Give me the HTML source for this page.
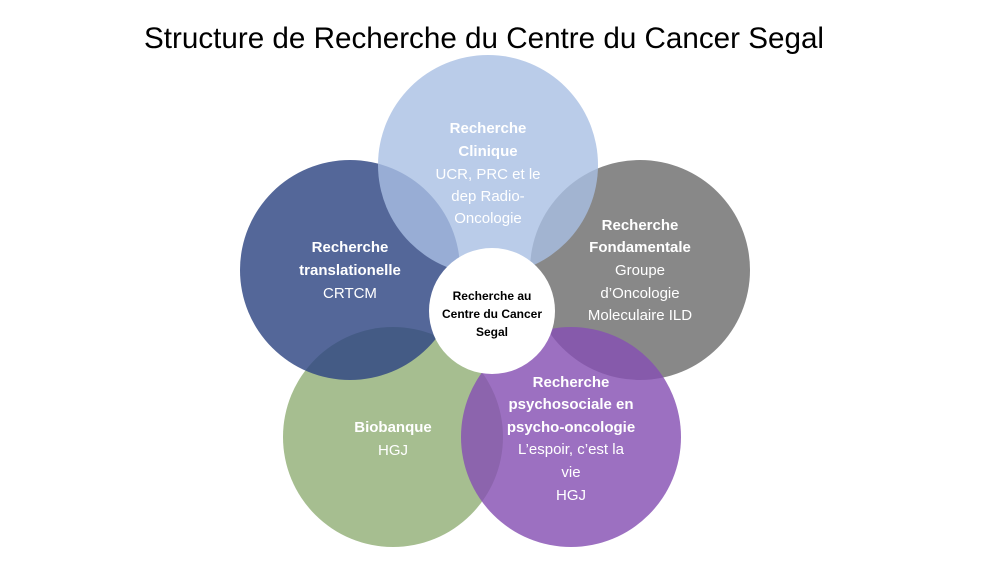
<!DOCTYPE html>
<html><head><meta charset="utf-8"><style>
html,body{margin:0;padding:0;background:#fff;}
svg{display:block;}
text{font-family:"Liberation Sans",sans-serif;fill:#fff;text-anchor:middle;}
</style></head><body>
<svg width="1000" height="563" viewBox="0 0 1000 563" xmlns="http://www.w3.org/2000/svg">
<rect width="1000" height="563" fill="#fff"/>
<text x="484" y="48" style="fill:#000;font-size:30px" textLength="680" lengthAdjust="spacingAndGlyphs">Structure de Recherche du Centre du Cancer Segal</text>
<circle cx="393" cy="437" r="110" fill="#97b37c" fill-opacity="0.85"/>
<circle cx="640" cy="270" r="110" fill="#6e6e6e" fill-opacity="0.82"/>
<circle cx="350" cy="270" r="110" fill="#2e4682" fill-opacity="0.82"/>
<circle cx="571" cy="437" r="110" fill="#8650b3" fill-opacity="0.82"/>
<circle cx="488" cy="165" r="110" fill="#a9bfe4" fill-opacity="0.8"/>
<circle cx="492" cy="311" r="63" fill="#fff"/>
<g style="font-size:15px">
<text x="488" y="133" font-weight="bold">Recherche</text>
<text x="488" y="156" font-weight="bold">Clinique</text>
<text x="488" y="179">UCR, PRC et le</text>
<text x="488" y="201">dep Radio-</text>
<text x="488" y="223">Oncologie</text>
<text x="350" y="252" font-weight="bold">Recherche</text>
<text x="350" y="275" font-weight="bold">translationelle</text>
<text x="350" y="298">CRTCM</text>
<text x="640" y="230" font-weight="bold">Recherche</text>
<text x="640" y="252" font-weight="bold">Fondamentale</text>
<text x="640" y="275">Groupe</text>
<text x="640" y="298">d’Oncologie</text>
<text x="640" y="320">Moleculaire ILD</text>
<text x="393" y="432" font-weight="bold">Biobanque</text>
<text x="393" y="455">HGJ</text>
<text x="571" y="387" font-weight="bold">Recherche</text>
<text x="571" y="409" font-weight="bold">psychosociale en</text>
<text x="571" y="432" font-weight="bold">psycho-oncologie</text>
<text x="571" y="454">L’espoir, c’est la</text>
<text x="571" y="477">vie</text>
<text x="571" y="500">HGJ</text>
</g>
<g style="font-size:12px" font-weight="bold">
<text x="492" y="300" style="fill:#000">Recherche au</text>
<text x="492" y="318" style="fill:#000">Centre du Cancer</text>
<text x="492" y="336" style="fill:#000">Segal</text>
</g>
</svg>
</body></html>
